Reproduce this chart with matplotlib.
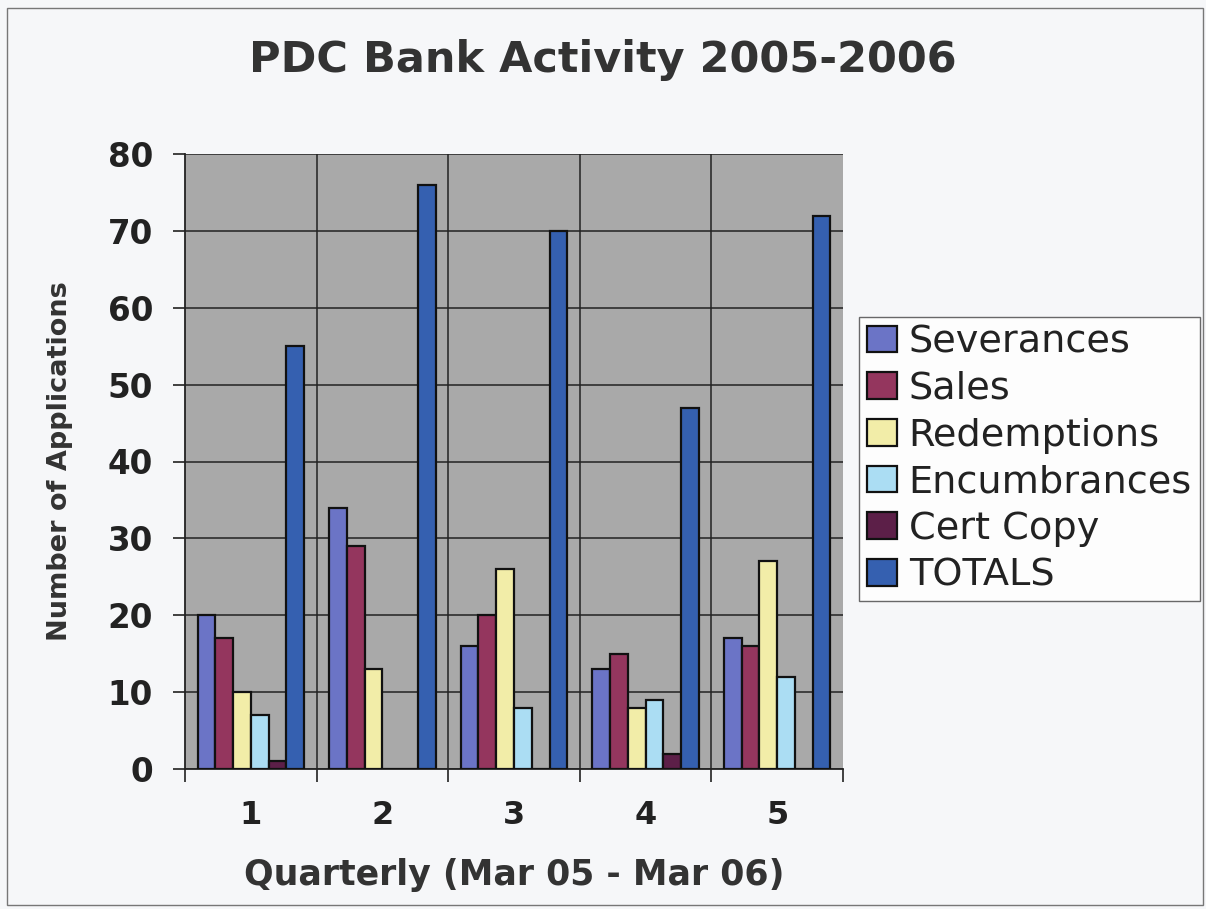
import matplotlib
matplotlib.use("Agg")
import matplotlib.pyplot as plt
import numpy as np
from matplotlib.patches import Rectangle

# values
quarters = ["1", "2", "3", "4", "5"]
series = ["Severances", "Sales", "Redemptions", "Encumbrances", "Cert Copy", "TOTALS"]
severances = [20, 34, 16, 13, 17]
sales = [17, 29, 20, 15, 16]
redemptions = [10, 13, 26, 8, 27]
encumbrances = [7, 0, 8, 9, 12]
cert_copy = [1, 0, 0, 2, 0]
totals = [55, 76, 70, 47, 72]

colors = ["#6B74C6", "#94365E", "#F2EDA8", "#ABDDF3", "#5C1F48", "#3560B0"]

plt.rcParams["font.family"] = ["DejaVu Sans"]

fig = plt.figure(figsize=(12.06, 9.09), dpi=100, facecolor="#F6F7F9")
ax = fig.add_axes([185 / 1206, 140 / 909, 658 / 1206, 615 / 909])
ax.set_facecolor("#A9A9A9")

x = np.arange(len(quarters))
w = 0.135
data = [severances, sales, redemptions, encumbrances, cert_copy, totals]
for i, (name, vals, col) in enumerate(zip(series, data, colors)):
    off = (i - 2.5) * w
    ax.bar(x + off, vals, w, color=col, edgecolor="#111111", linewidth=1.6,
           label=name, zorder=3)

ax.set_xlim(-0.5, len(quarters) - 0.5)
ax.set_ylim(0, 80)
ax.set_yticks(range(0, 81, 10))
ax.set_xticks(x)
ax.set_xticklabels(quarters)
# category boundaries: ticks + vertical grid lines
ax.set_xticks(np.arange(-0.5, len(quarters)), minor=True)
for b in np.arange(0.5, len(quarters) - 0.5):
    ax.axvline(b, color="#222222", lw=1.1, zorder=1)
ax.yaxis.grid(True, color="#222222", lw=1.1, zorder=1)

ax.tick_params(axis="x", which="major", length=0, pad=22, labelsize=23, labelcolor="#222222")
ax.tick_params(axis="x", which="minor", length=9, width=1.2, direction="out", color="#222222")
ax.tick_params(axis="y", length=9, width=1.2, direction="out", pad=14, labelsize=23.5,
               labelcolor="#222222", color="#222222")
for lab in ax.get_xticklabels() + ax.get_yticklabels():
    lab.set_fontweight("bold")

for s in ["top", "right"]:
    ax.spines[s].set_visible(False)
for s in ["left", "bottom"]:
    ax.spines[s].set_color("#222222")
    ax.spines[s].set_linewidth(1.3)

ax.set_xlabel("Quarterly (Mar 05 - Mar 06)", fontsize=25, fontweight="bold",
              color="#333333", va="baseline")
ax.xaxis.set_label_coords(0.5, (769 - 885) / 615)
ax.set_ylabel("Number of Applications", fontsize=19.5, fontweight="bold",
              color="#333333", va="baseline")
ax.yaxis.set_label_coords((67 - 185) / 658, 0.5)
fig.text(0.5, 1 - 60 / 909, "PDC Bank Activity 2005-2006", ha="center", va="center",
         fontsize=31, fontweight="bold", color="#333333")

leg = ax.legend(loc="center left", bbox_to_anchor=(859 / 1206, 1 - 459 / 909),
                bbox_transform=fig.transFigure, fontsize=27.5, frameon=True,
                fancybox=False, edgecolor="#444444", facecolor="white",
                handlelength=0.8, handleheight=0.7, handletextpad=0.3,
                labelspacing=0.28, borderpad=0.2, borderaxespad=0)
leg.get_frame().set_linewidth(1.0)
for t in leg.get_texts():
    t.set_color("#222222")

# thin frame around the whole chart
fig.patches.append(Rectangle((7 / 1206, 4 / 909), 1196 / 1206, 897 / 909,
                             transform=fig.transFigure, fill=False,
                             edgecolor="#777777", lw=1.0))

fig.savefig("out.png", dpi=100, facecolor=fig.get_facecolor())
